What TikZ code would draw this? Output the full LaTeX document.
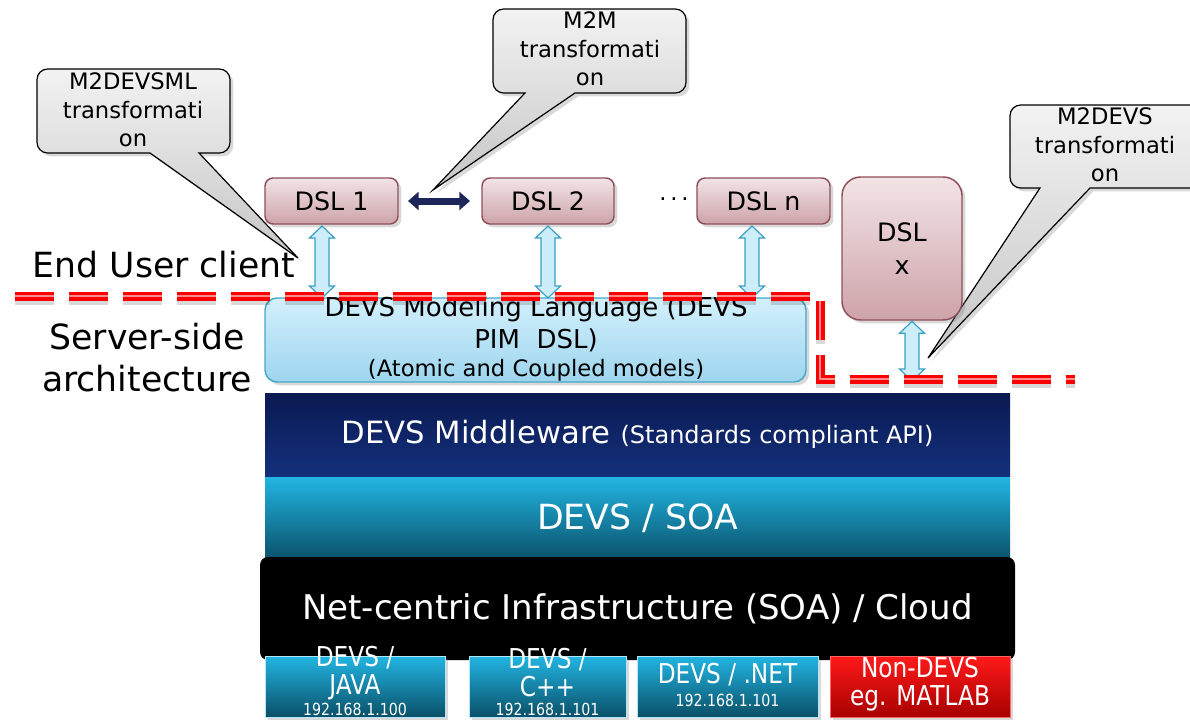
\documentclass[tikz,border=0pt]{standalone}
\usepackage{fontspec}
\setmainfont{DejaVu Sans}
\newfontfamily\condf{DejaVu Sans}[FakeStretch=0.85]
\usetikzlibrary{shadows,arrows.meta,calc}
\definecolor{dslT}{HTML}{F2E4E6}
\definecolor{dslB}{HTML}{CDA3A9}
\definecolor{dslborder}{HTML}{8E4F5A}
\definecolor{navyarrow}{HTML}{1E2559}
\definecolor{lbfill}{HTML}{CBEEFA}
\definecolor{lbborder}{HTML}{3C9FC5}
\definecolor{mlT}{HTML}{D3F0FC}
\definecolor{mlB}{HTML}{9DD5EE}
\definecolor{mlborder}{HTML}{45A8C8}
\definecolor{mwT}{HTML}{0A1A52}
\definecolor{mwB}{HTML}{14307C}
\definecolor{soaT}{HTML}{22B5E3}
\definecolor{soaB}{HTML}{0A5068}
\definecolor{redT}{HTML}{FF1A1A}
\definecolor{redB}{HTML}{A80000}
\definecolor{dashred}{HTML}{FF0000}
\newcommand\dblvarrow[2]{%
 \draw[lbarrow] let \p1=(#1), \p2=(#2) in
 (\x1,\y1) -- (\x1+9.4pt,\y1-9pt) -- (\x1+5.25pt,\y1-9pt) -- (\x1+5.25pt,\y2+9pt)
 -- (\x1+9.4pt,\y2+9pt) -- (\x1,\y2) -- (\x1-9.4pt,\y2+9pt) -- (\x1-5.25pt,\y2+9pt)
 -- (\x1-5.25pt,\y1-9pt) -- (\x1-9.4pt,\y1-9pt) -- cycle;}
\begin{document}
\begin{tikzpicture}[x=0.75pt,y=-0.75pt,
 sz/.style 2 args={minimum width=#1*0.75pt, minimum height=#2*0.75pt},
 box/.style={rectangle, inner sep=0pt, outer sep=0pt},
 shad/.style={drop shadow={opacity=0.3, shadow xshift=2.5pt, shadow yshift=-2.5pt}},
 callout/.style={draw=black, line width=0.9pt, top color=gray!10, bottom color=gray!45, shad},
 calltext/.style={align=center, font=\fontsize{17}{21.4}\selectfont},
 dslbox/.style={box, draw=dslborder, line width=1.1pt, rounded corners=6pt, top color=dslT, bottom color=dslB, shad, font=\fontsize{19}{25}\selectfont, align=center},
 mlbox/.style={box, draw=mlborder, line width=1.1pt, rounded corners=9pt, top color=mlT, bottom color=mlB, shad},
 mltext/.style={font=\fontsize{19.5}{24}\selectfont},
 lbarrow/.style={draw=lbborder, fill=lbfill, line width=0.9pt, line join=miter},
 sidetext/.style={font=\fontsize{26}{31.5}\selectfont, align=center},
 bigbar/.style={box, text=white},
 bbox/.style={box, draw=white!70!cyan, line width=0.4pt, top color=soaT, bottom color=soaB, shad},
 rbox/.style={box, draw=red!60!white, line width=0.4pt, top color=redT, bottom color=redB, shad},
 btext/.style={text=white, align=center, font=\condf\fontsize{20.5}{21}\selectfont},
 iptext/.style={text=white, font=\condf\fontsize{12.5}{14}\selectfont},
 reddash/.style={draw=dashred, line width=6.75pt, dash pattern=on 29.25pt off 11.25pt},
]
\useasboundingbox (0,0) rectangle (1190,721);

% callouts
\path[callout] (298,258) -- (150,153) [rounded corners=8pt] -- (37,153) -- (37,69) -- (230,69) -- (230,153) [sharp corners] -- (199,153) -- cycle;
\node[calltext] (c1) at (133,110) {M2DEVSML\\transformati\\on};
\path[callout] (433,190) -- (525,93) [rounded corners=8pt] -- (493,93) -- (493,9) -- (686,9) -- (686,93) [sharp corners] -- (575,93) -- cycle;
\node[calltext] (c2) at (590,49) {M2M\\transformati\\on};
\path[callout] (928,358) -- (1040,188) [rounded corners=8pt] -- (1010,188) -- (1010,105) -- (1210,105) -- (1210,188) [sharp corners] -- (1090,188) -- cycle;
\node[calltext] (c3) at (1105,145) {M2DEVS\\transformati\\on};

% DSL boxes
\node[dslbox, sz={133}{46}] (dsl1) at (331.5,201) {DSL 1};
\node[dslbox, sz={132}{46}] (dsl2) at (548,201) {DSL 2};
\node[font=\fontsize{17}{25}\selectfont] (dots) at (674,199) {.\,.\,.};
\node[dslbox, sz={133}{46}] (dsln) at (763.5,201) {DSL n};
\node[dslbox, rounded corners=14pt, sz={120}{143}] (dslx) at (902,248.5) {DSL\\x};

\draw[navyarrow, line width=5.25pt, {Triangle[width=13.5pt,length=8pt]}-{Triangle[width=13.5pt,length=8pt]}]
 ([xshift=7.5pt]dsl1.east) -- ([xshift=-9pt]dsl2.west);

% side labels
\node[sidetext] (client) at (164,265) {End User client};
\node[sidetext] (server) at (147,358) {Server-side\\architecture};

% stack
\node[mlbox, sz={541}{84}] (devsml) at (535.5,340) {};
\node[mltext] (ml1) at (536,309) {DEVS Modeling Language (DEVS};
\node[mltext] (ml2) at (536,340) {PIM\ \ DSL)};
\node[font=\fontsize{17}{21}\selectfont] (ml3) at (536,370) {(Atomic and Coupled models)};

\node[bigbar, top color=mwT, bottom color=mwB, sz={745}{83}, font=\fontsize{23}{28}\selectfont] (mw) at (637.5,434.5)
 {DEVS Middleware {\fontsize{18}{22}\selectfont (Standards compliant API)}};
\node[bigbar, top color=soaT, bottom color=soaB, sz={745}{83}, font=\fontsize{26}{30}\selectfont] (soa) at (637.5,518.5) {DEVS / SOA};
\node[bigbar, fill=black, rounded corners=6pt, sz={755}{103}, font=\fontsize{25.5}{30}\selectfont] (net) at (637.5,608.5)
 {Net-centric Infrastructure (SOA) / Cloud};

% bottom platform boxes
\node[bbox, sz={180}{61}] (java) at (355,686.5) {};
\node[bbox, sz={157}{61}] (cpp) at (547.5,686.5) {};
\node[bbox, sz={181}{61}] (dotnet) at (727.5,686.5) {};
\node[rbox, sz={180}{61}] (nondevs) at (920,686.5) {};
\node[btext] (javat) at (355,673) {DEVS /\\JAVA};
\node[iptext] (javaip) at (355,709) {192.168.1.100};
\node[btext] (cppt) at (547.5,673) {DEVS /\\C++};
\node[iptext] (cppip) at (547.5,709) {192.168.1.101};
\node[btext] (dotnett) at (727.5,675) {DEVS / .NET};
\node[iptext] (dotnetip) at (727.5,700) {192.168.1.101};
\node[btext] (nondevst) at (920,684) {Non-DEVS\\eg. MATLAB};

% light blue double arrows
\coordinate (a1t) at ([xshift=-7.1pt,yshift=-1.5pt]dsl1.south);
\coordinate (a1b) at (a1t |- devsml.north);
\coordinate (a2t) at ([yshift=-1.5pt]dsl2.south);
\coordinate (a2b) at (a2t |- devsml.north);
\coordinate (a3t) at ([xshift=-8.6pt,yshift=-1.5pt]dsln.south);
\coordinate (a3b) at (a3t |- devsml.north);
\coordinate (a4t) at ([xshift=7.5pt,yshift=-1pt]dslx.south);
\coordinate (a4b) at (912,381);
\dblvarrow{a1t}{a1b}
\dblvarrow{a2t}{a2b}
\dblvarrow{a3t}{a3b}
\dblvarrow{a4t}{a4b}

% red dashed boundary
\draw[reddash, draw=black, opacity=0.15, transform canvas={yshift=-3pt}] (15,296) -- (820,296) -- (820,379) -- (1075,379);
\draw[reddash] (15,296) -- (820,296) -- (820,379) -- (1075,379);
\draw[draw=white, opacity=0.55, line width=0.8pt, dash pattern=on 29.25pt off 11.25pt] (15,296) -- (820,296) -- (820,379) -- (1075,379);
\end{tikzpicture}
\end{document}
